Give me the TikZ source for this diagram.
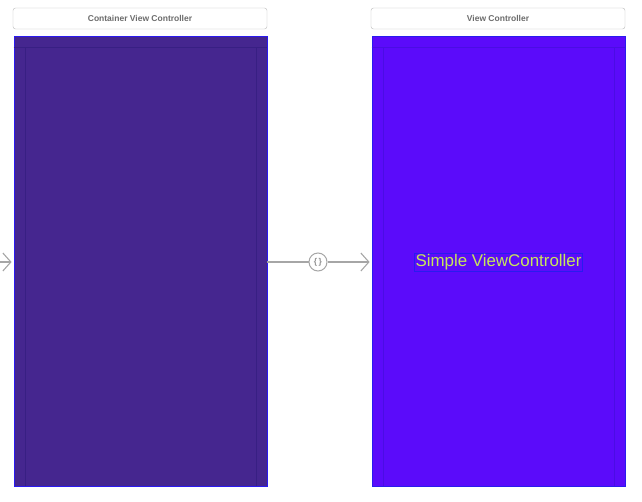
\documentclass[tikz,border=0pt]{standalone}
\usepackage{fontspec}
\setmainfont{Liberation Sans}
\usetikzlibrary{arrows.meta}
\definecolor{frameBlue}{RGB}{42,26,240}
\definecolor{containerFill}{RGB}{69,38,143}
\definecolor{viewFill}{RGB}{91,11,250}
\definecolor{labelGreen}{RGB}{200,230,90}

\begin{document}
\begin{tikzpicture}[x=1pt,y=-1pt,
                    titleND/.style={draw=gray!55,
                                    rounded corners=2.5pt,
                                    fill=white,
                                    minimum width=254pt,
                                    minimum height=21pt,
                                    inner sep=0pt,
                                    text=gray!85!black,
                                    font=\bfseries\fontsize{8.5}{10}\selectfont},
                    screenND/.style={draw=frameBlue,
                                     line width=0.8pt,
                                     minimum width=253pt,
                                     minimum height=450pt,
                                     inner sep=0pt},
                    segueLN/.style={draw=gray!70,
                                    line width=1.1pt,
                                    -{Straight Barb[length=8pt,width=18pt]}}]
    \useasboundingbox (0,0) rectangle (642,501);
    % scenes
    \node[titleND](titleA) at (140,18.5) {Container View Controller};
    \node[titleND](titleB) at (498,18.5) {View Controller};
    \node[screenND, fill=containerFill](sceneA) at (140.5,261) {};
    \node[screenND, fill=viewFill](sceneB) at (498.5,261) {};
    \draw[containerFill!88!frameBlue!85!black, line width=0.5pt]
        ([yshift=-12pt]sceneA.north west) -- ([yshift=-12pt]sceneA.north east)
        ([shift={(11.5,12)}]sceneA.north west) -- ([xshift=11.5pt]sceneA.south west)
        ([shift={(-11.5,12)}]sceneA.north east) -- ([xshift=-11.5pt]sceneA.south east);
    \draw[viewFill!80!frameBlue!92!black, line width=0.5pt]
        ([yshift=-12pt]sceneB.north west) -- ([yshift=-12pt]sceneB.north east)
        ([shift={(11.5,12)}]sceneB.north west) -- ([xshift=11.5pt]sceneB.south west)
        ([shift={(-11.5,12)}]sceneB.north east) -- ([xshift=-11.5pt]sceneB.south east);
    \node[draw=frameBlue, line width=0.6pt, inner sep=1pt, text=labelGreen,
          font=\fontsize{16.9}{18}\selectfont](label) at (498.5,262) {Simple ViewController};
    % segues
    \coordinate (entry) at (-30,262);
    \node[circle, draw=gray!70, fill=white, line width=1pt, minimum size=18pt,
          inner sep=0pt, text=gray!85, font=\bfseries\fontsize{8.5}{9}\selectfont](embed) at (318,262) {\{\,\}};
    \path[segueLN] (entry) -- ([xshift=-2pt]sceneA.west |- entry);
    \path[draw=gray!70, line width=1.1pt] (sceneA.east |- embed) -- (embed);
    \path[segueLN] (embed) -- ([xshift=-2pt]sceneB.west |- embed);
\end{tikzpicture}
\end{document}
